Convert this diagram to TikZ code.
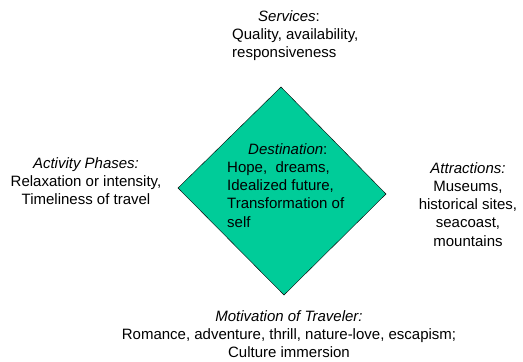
\documentclass[tikz,border=0pt]{standalone}
\usepackage{fontspec}
\setmainfont{Liberation Sans}
\usepackage{tikz}
\usetikzlibrary{positioning}
\definecolor{destfill}{RGB}{0,204,153}
\tikzset{
    dest/.style={draw=black, fill=destfill, thin},
    label/.style={inner sep=0pt, align=center, anchor=north, font=\fontsize{15}{18.3}\selectfont},
    llabel/.style={inner sep=0pt, align=left, anchor=north west, font=\fontsize{15}{18.3}\selectfont},
}

\begin{document}
\begin{tikzpicture}[x=1pt, y=-1pt]
        \useasboundingbox (0,0) rectangle (523,362);
        \coordinate (top) at (281,87);
        \coordinate (right) at (386,194);
        \coordinate (bottom) at (284,295);
        \coordinate (left) at (178,188);
        \draw [dest] (top) -- (right) -- (bottom) -- (left) -- cycle;
        \node [llabel] (destination) at (227,143) {\hspace*{21pt}\textit{Destination}:\\Hope,\ \ dreams,\\Idealized future,\\Transformation of\\self};
        \node [llabel] (services) at (232,10) {\hspace*{26pt}\textit{Services}:\\Quality, availability,\\responsiveness};
        \node [label] (activity) at (86,157) {\textit{Activity Phases:}\\Relaxation or intensity,\\Timeliness of travel};
        \node [label] (attractions) at (468,162) {\textit{Attractions:}\\Museums,\\historical sites,\\seacoast,\\mountains};
        \node [label] (motivation) at (289,310) {\textit{Motivation of Traveler:}\\Romance, adventure, thrill, nature-love, escapism;\\Culture immersion};
    \end{tikzpicture}
\end{document}
